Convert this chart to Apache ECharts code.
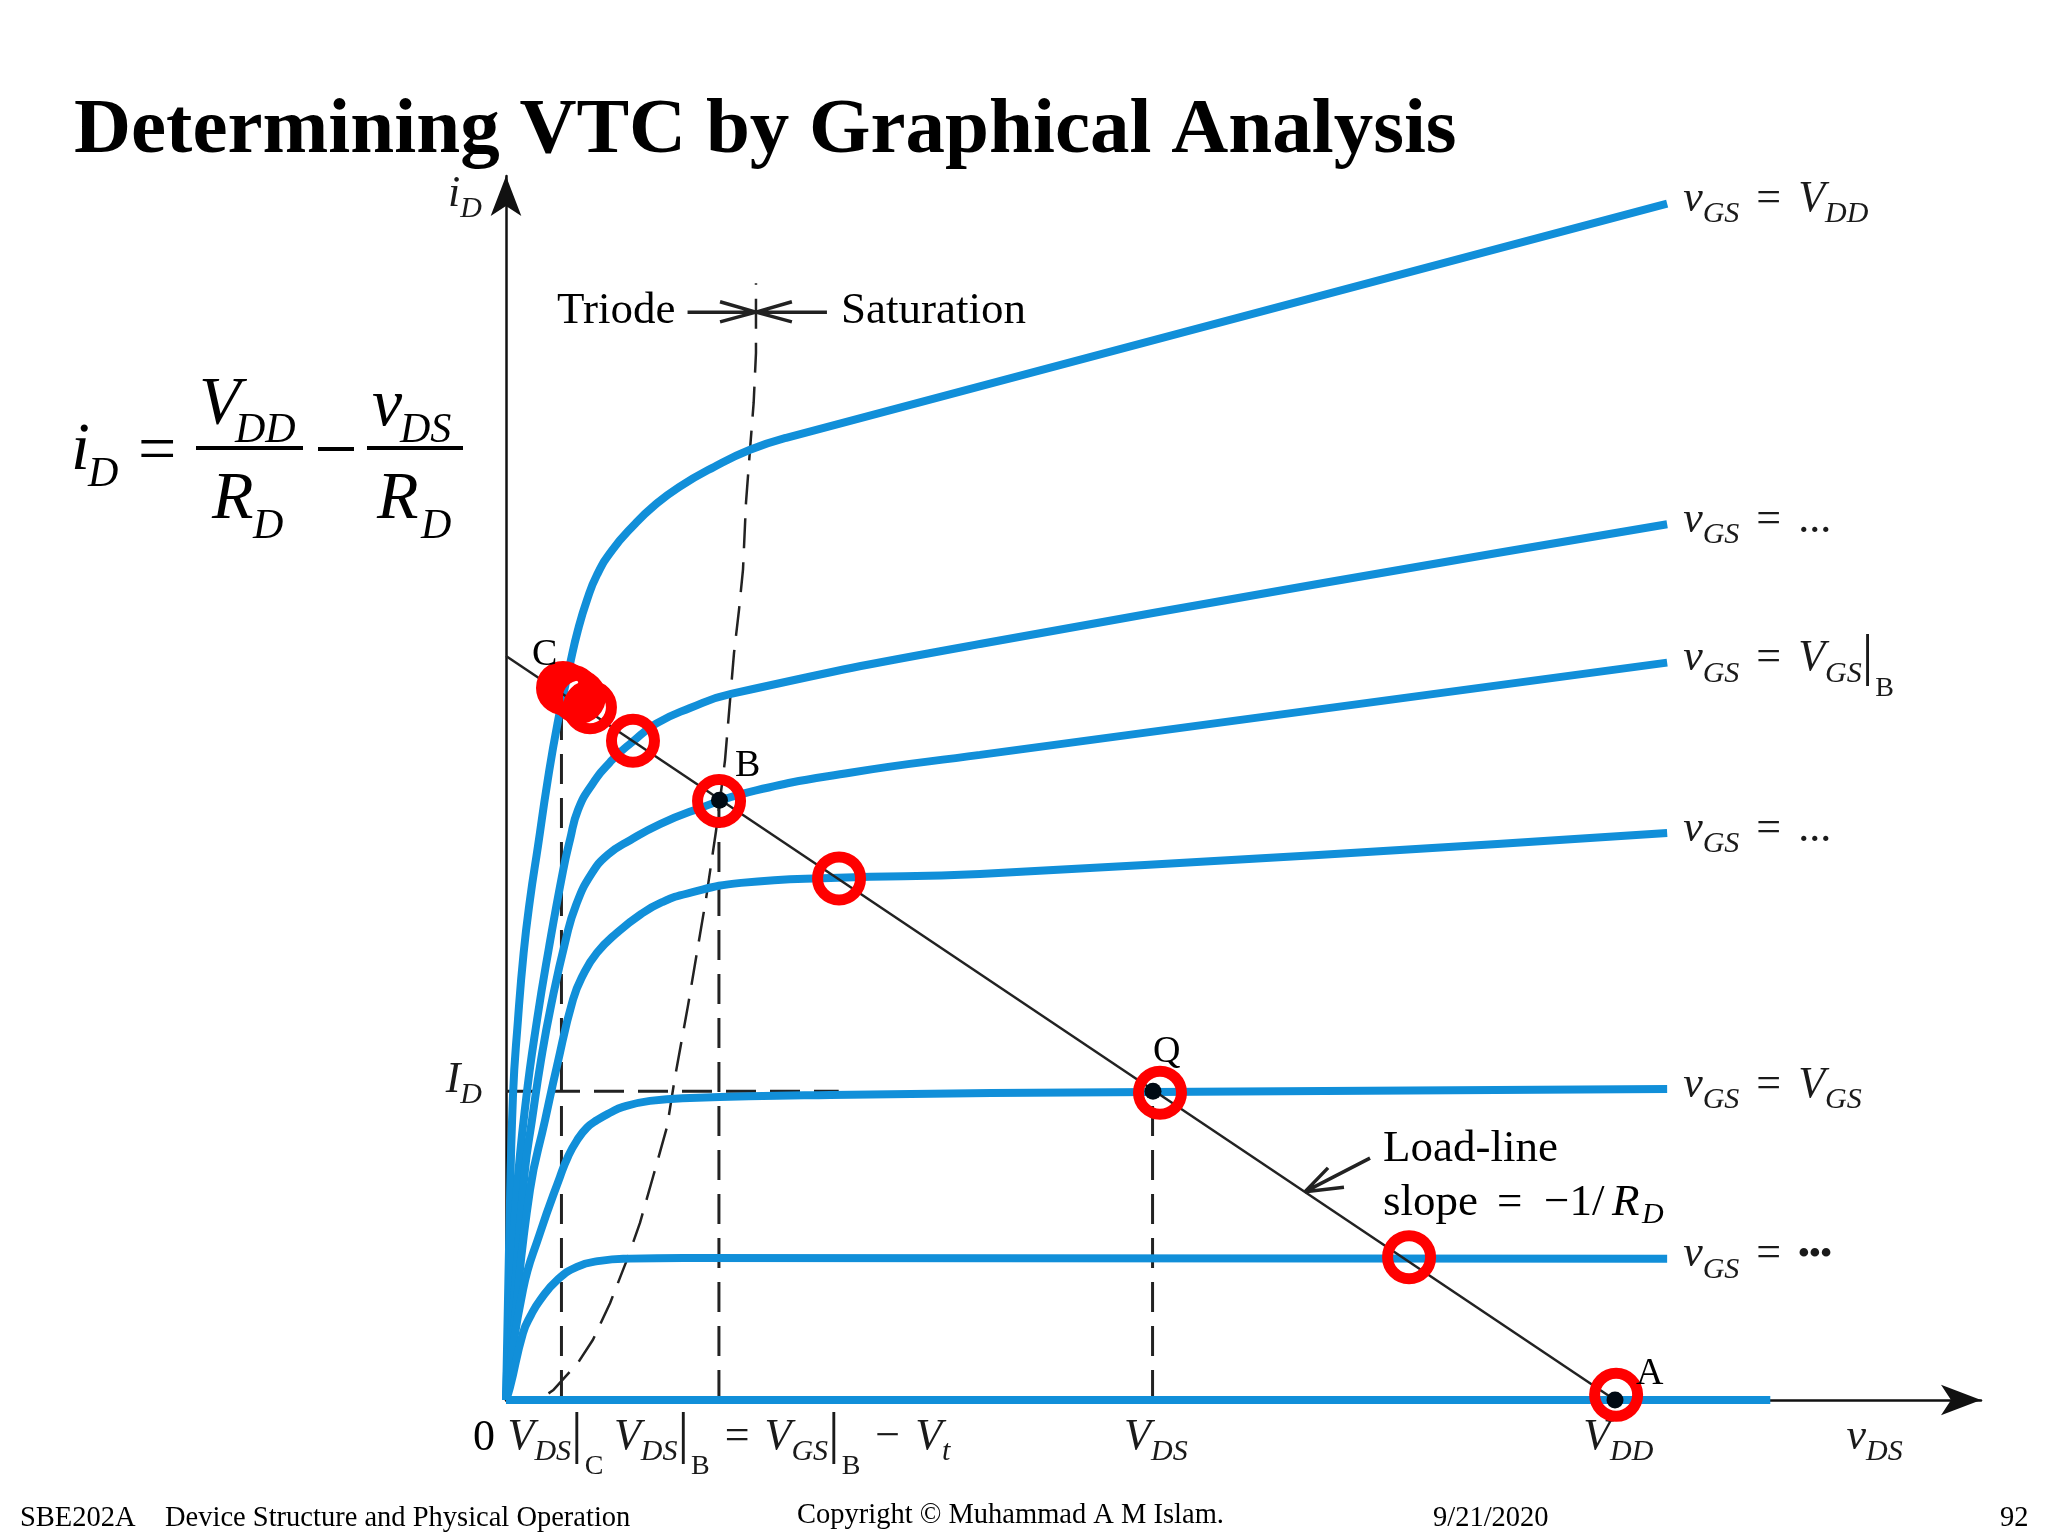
<!DOCTYPE html>
<html><head><meta charset="utf-8">
<style>html,body{margin:0;padding:0;background:#fff}#c{width:2048px;height:1536px}</style>
<script src="https://cdn.jsdelivr.net/npm/echarts@6/dist/echarts.min.js"></script></head>
<body><div id="c"></div>
<script>
// Values in normalised units: VDD = 10 on x, VDD/RD = 10 on y
const curveVDD=[[0,0],[.027,2.02],[.063,4.09],[.108,5.11],[.159,6.01],[.216,6.72],[.289,7.45],[.37,8.27],[.464,9.09],[.577,9.89],[.649,10.35],[.73,10.75],[.821,11.09],[.956,11.42],[1.154,11.76],[1.344,12.03],[1.56,12.27],[1.876,12.54],[2.2,12.77],[2.525,12.93],[10.47,16.08]];
const curveUpper=[[0,0],[.036,1.34],[.09,2.69],[.18,4.03],[.28,5.11],[.384,6.05],[.514,7.11],[.577,7.53],[.649,7.93],[.775,8.27],[.956,8.6],[1.136,8.84],[1.353,9.09],[1.659,9.3],[2.029,9.49],[4.274,10.16],[10.47,11.77]];
const curveVGSB=[[0,0],[.072,1.34],[.171,3.09],[.234,3.76],[.316,4.57],[.406,5.3],[.541,6.2],[.631,6.65],[.766,7.06],[.92,7.33],[1.127,7.53],[1.389,7.74],[1.704,7.93],[2.191,8.17],[3.102,8.43],[4.274,8.67],[10.47,9.91]];
const curveMid=[[0,0],[.063,.85],[.216,2.82],[.352,3.76],[.46,4.49],[.604,5.38],[.694,5.71],[.82,6.01],[1.001,6.28],[1.217,6.53],[1.407,6.69],[1.641,6.81],[2.119,6.95],[2.994,7.02],[4.274,7.07],[10.47,7.62]];
const curveVGS=[[0,0],[.153,1.48],[.306,2.24],[.487,3],[.559,3.27],[.64,3.49],[.73,3.66],[.82,3.76],[.938,3.86],[1.055,3.94],[1.298,4.02],[1.659,4.06],[2.921,4.1],[5.834,4.14],[10.47,4.18]];
const curveLow=[[0,0],[.036,.17],[.153,.9],[.225,1.14],[.306,1.34],[.46,1.61],[.64,1.79],[.848,1.87],[1.118,1.9],[1.6,1.91],[10.47,1.9]];
const curveOff=[[0,0],[11.4,0]];
const loadLine=[[0,10],[10,0]];
const boundary=[[0,0],[.153,0],[.325,.03],[.424,.13],[.649,.5],[.784,.81],[.938,1.3],[1.1,1.92],[1.208,2.38],[1.326,3],[1.452,3.67],[1.524,4.34],[1.641,5.3],[1.803,6.73],[1.894,7.65],[1.975,8.6],[2.056,10.04],[2.101,10.62],[2.137,11.16],[2.164,12.06],[2.2,12.77],[2.233,13.4],[2.254,14.07],[2.254,15.01]];
const dropC=[[.5,0],[.5,9.5]];
const dropB=[[1.92,0],[1.92,8.08]];
const dropQ=[[5.83,0],[5.83,4.17]];
const levelID=[[0,4.15],[3,4.15]];
const arrowLoad=[[7.791,3.25],[7.205,2.8],[7.412,3.12],[7.205,2.8],[7.556,2.86]];
const arrowTriode=[[1.637,14.62],[2.254,14.62],[1.93,14.76],[2.254,14.62],[1.93,14.49]];
const arrowSat=[[2.894,14.62],[2.254,14.62],[2.578,14.76],[2.254,14.62],[2.578,14.49]];
const points=[[1.925,8.06],[5.834,4.15],[10,0]];
const rings=[[.514,9.57],[.595,9.52],[.658,9.45],[.757,9.31],[1.145,8.86],[1.921,8.05],[3.003,7.01],[5.897,4.13],[8.143,1.92],[10.01,.07]];
const xTickValues=[.446,2.49,5.86,10.03,12.34];
const xTickLabels=[
 '{V|V}{s|DS}{b|\u007c}{t|C}',
 '{V|V}{s|DS}{b|\u007c}{t|B}{e|=}{V|V}{s|GS}{b|\u007c}{t|B}{e|\u2212}{V|V}{s|t}',
 '{V|V}{s|DS}','{V|V}{s|DD}','{V|v}{s|DS}'];
const yTickValues=[4.3,16.2];
const yTickLabels=['{V|I}{s|D}','{V|i}{s|D}'];
const vgsLabels=['{V|v}{s|GS}{q|=}{V|V}{s|DD}','{V|v}{s|GS}{q|=}{r|...}','{V|v}{s|GS}{q|=}{V|V}{s|GS}{b|\u007c}{t|B}','{V|v}{s|GS}{q|=}{r|...}','{V|v}{s|GS}{q|=}{V|V}{s|GS}','{V|v}{s|GS}{q|=}{d|\u2022\u2022\u2022}'];

const F='Liberation Serif', INK='#1a1a1a', BLUE='#118fd9';
const tok=(fontSize,fontStyle,extra)=>Object.assign({fontFamily:F,fontSize,fontStyle,color:INK},extra);
const rich={
 V:tok(44,'italic',{lineHeight:100}),
 s:tok(30,'italic',{padding:[30,0,0,0]}),
 t:tok(28,'normal',{padding:[60,0,0,2]}),
 b:tok(58,'normal',{}),
 e:tok(44,'normal',{padding:[0,15,0,15]}),
 q:tok(44,'normal',{padding:[0,17,0,17]}),
 r:tok(44,'normal',{}),
 d:tok(32,'bold',{})
};
const pick=(vals,labs)=>v=>{const i=vals.indexOf(v);return i<0?'':labs[i]};
const thin=(name,data,type,w)=>({name,type:'line',data,symbol:'none',silent:true,z:type==='solid'?4:2,lineStyle:{color:'#222',width:w||2.5,type:type==='solid'?'solid':[30,14]}});
const curve=(name,data,i)=>({name,type:'line',data,symbol:'none',showSymbol:false,smooth:.5,silent:true,z:3,lineStyle:{color:BLUE,width:8,cap:'butt'},
  endLabel:i==null?{show:false}:{show:true,distance:16,offset:[0,-4],formatter:()=>vgsLabels[i],rich}});
const T=(text,x,y,size,o={})=>({type:'text',silent:true,z:20,style:{text,x,y:y+3,font:(o.f||'')+' '+size+'px "'+F+'"',fill:'#000',textAlign:o.a||'left',textVerticalAlign:'middle'}});
const R=(x,y,w,h)=>({type:'rect',silent:true,z:20,shape:{x,y,width:w,height:h},style:{fill:'#000'}});

const chart=echarts.init(document.getElementById('c'),null,{renderer:'canvas'});
chart.setOption({
 animation:false,backgroundColor:'#fff',
 grid:{left:506,top:176,width:1475,height:1224,containLabel:false},
 xAxis:{type:'value',min:0,max:13.3,splitLine:{show:false},axisTick:{show:false},
  axisLine:{onZero:false,lineStyle:{color:'#111',width:2.5},symbol:['none','arrow'],symbolSize:[23,40],symbolOffset:[0,0]},
  axisLabel:{customValues:xTickValues,margin:-13,formatter:pick(xTickValues,xTickLabels),rich,verticalAlign:'top',hideOverlap:false,showMinLabel:true,showMaxLabel:true}},
 yAxis:{type:'value',min:0,max:16.45,splitLine:{show:false},axisTick:{show:false},
  axisLine:{onZero:false,lineStyle:{color:'#111',width:2.5},symbol:['none','arrow'],symbolSize:[23,40],symbolOffset:[0,0]},
  axisLabel:{customValues:yTickValues,margin:24,formatter:pick(yTickValues,yTickLabels),rich,hideOverlap:false}},
 series:[
  thin('Triode/saturation boundary',boundary,'dash',2.5),
  thin('VDS at C',dropC,'dash',3),thin('VDS at B',dropB,'dash',3),thin('VDS at Q',dropQ,'dash',3),thin('ID',levelID,'dash',3),
  curve('vGS=VDD',curveVDD,0),curve('vGS upper',curveUpper,1),curve('vGS=VGS|B',curveVGSB,2),curve('vGS mid',curveMid,3),curve('vGS=VGS',curveVGS,4),curve('vGS low',curveLow,5),curve('vGS off',curveOff,null),
  thin('Load line',loadLine,'solid',2.5),
  thin('Load-line arrow',arrowLoad,'solid',3.5),thin('Triode arrow',arrowTriode,'solid',3.5),thin('Saturation arrow',arrowSat,'solid',3.5),
  {name:'Points',type:'scatter',data:points,symbol:'circle',symbolSize:17,silent:true,z:5,itemStyle:{color:'#000a14',opacity:1}},
  {name:'Sweep',type:'scatter',data:rings,symbol:'circle',symbolSize:43,silent:true,z:6,itemStyle:{color:'rgba(0,0,0,0)',borderColor:'#ff0000',borderWidth:11,opacity:1}}
 ],
 graphic:[
  T('Determining VTC by Graphical Analysis',74,129,79,{f:'bold'}),
  T('i',71,448,68,{f:'italic'}),T('D',88,472,42,{f:'italic'}),
  T('=',138,450,68),
  T('V',199,402,68,{f:'italic'}),T('DD',235,428,42,{f:'italic'}),R(196,446,107,4),
  T('R',212,497,68,{f:'italic'}),T('D',253,524,42,{f:'italic'}),
  R(318,447,36,4),
  T('v',372,404,68,{f:'italic'}),T('DS',400,428,42,{f:'italic'}),R(367,446,96,4),
  T('R',377,497,68,{f:'italic'}),T('D',421,524,42,{f:'italic'}),
  T('Triode',557,308,45),T('Saturation',841,308,45),
  T('Load-line',1383,1146,45),
  T('slope',1383,1200,45),T('=',1497,1200,45),T('\u22121/',1544,1200,45),T('R',1612,1200,45,{f:'italic'}),T('D',1642,1212,30,{f:'italic'}),
  T('C',532,652,38),T('B',735,763,38),T('Q',1153,1049,38),T('A',1636,1371,38),
  T('0',473,1435,44),
  T('SBE202A',20,1516,28.5),T('Device Structure and Physical Operation',165,1516,28.5),
  T('Copyright \u00a9 Muhammad A M Islam.',797,1513,28.5),
  T('9/21/2020',1433,1516,28.5),T('92',2000,1516,28.5)
 ]
});
</script></body></html>
